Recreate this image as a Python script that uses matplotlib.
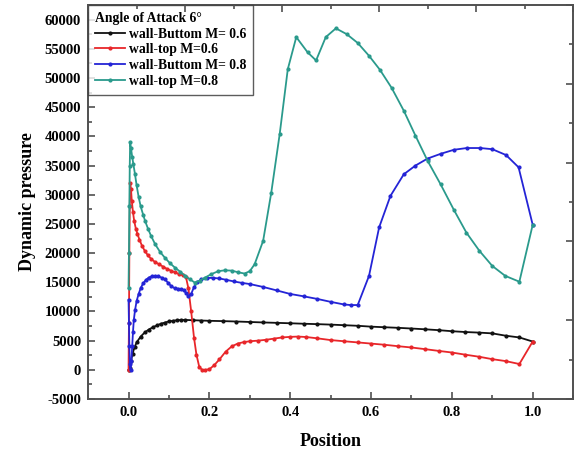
import matplotlib
matplotlib.use("Agg")
import matplotlib.pyplot as plt
from matplotlib.ticker import MultipleLocator, NullFormatter

plt.rcParams["font.family"] = ["Liberation Serif", "DejaVu Serif"]
plt.rcParams["font.weight"] = "bold"
plt.rcParams["axes.unicode_minus"] = False

# wall-Buttom, M = 0.6
x_bot06 = [0.000, 0.003, 0.006, 0.010, 0.015, 0.020, 0.030, 0.040, 0.050, 0.060,
           0.070, 0.080, 0.090, 0.100, 0.110, 0.120, 0.130, 0.140, 0.160, 0.180,
           0.200, 0.233, 0.267, 0.300, 0.333, 0.367, 0.400, 0.433, 0.467, 0.500,
           0.533, 0.567, 0.600, 0.633, 0.667, 0.700, 0.733, 0.767, 0.800, 0.833,
           0.867, 0.900, 0.933, 0.967, 1.000]
y_bot06 = [0, 400, 1500, 2800, 3900, 4700, 5700, 6400, 6900, 7300,
           7600, 7900, 8100, 8300, 8400, 8500, 8550, 8550, 8500, 8450,
           8400, 8350, 8280, 8200, 8120, 8050, 7980, 7900, 7830, 7750,
           7650, 7550, 7400, 7300, 7200, 7080, 6950, 6800, 6620, 6480,
           6380, 6250, 5850, 5550, 4850]

# wall-top, M = 0.6
x_top06 = [0.000, 0.001, 0.002, 0.003, 0.004, 0.006, 0.008, 0.011, 0.014, 0.018,
           0.022, 0.027, 0.033, 0.040, 0.048, 0.056, 0.065, 0.075, 0.085, 0.095,
           0.105, 0.115, 0.125, 0.135, 0.142, 0.148, 0.155, 0.162, 0.168, 0.175,
           0.182, 0.190, 0.200, 0.212, 0.225, 0.240, 0.255, 0.270, 0.285, 0.300,
           0.320, 0.340, 0.360, 0.380, 0.400, 0.420, 0.440, 0.467, 0.500, 0.533,
           0.567, 0.600, 0.633, 0.667, 0.700, 0.733, 0.767, 0.800, 0.833, 0.867,
           0.900, 0.933, 0.967, 1.000]
y_top06 = [0, 8000, 20000, 28000, 32000, 31000, 29000, 27000, 25500, 24200,
           23300, 22300, 21300, 20400, 19600, 19000, 18500, 18100, 17700, 17300,
           17000, 16700, 16400, 16200, 15900, 14000, 10000, 5500, 2600, 500,
           0, 0, 100, 800, 1800, 3100, 4000, 4500, 4750, 4900,
           5000, 5150, 5350, 5550, 5650, 5700, 5620, 5400, 5100, 4900,
           4700, 4500, 4300, 4050, 3830, 3550, 3250, 2970, 2600, 2250,
           1830, 1500, 1000, 4850]

# wall-Buttom, M = 0.8
x_bot08 = [0.000, 0.001, 0.002, 0.003, 0.005, 0.007, 0.009, 0.011, 0.013, 0.016,
           0.020, 0.025, 0.030, 0.036, 0.043, 0.050, 0.058, 0.066, 0.074, 0.082,
           0.090, 0.098, 0.106, 0.114, 0.122, 0.130, 0.136, 0.142, 0.148, 0.155,
           0.162, 0.170, 0.180, 0.195, 0.210, 0.225, 0.240, 0.260, 0.280, 0.300,
           0.333, 0.367, 0.400, 0.433, 0.467, 0.500, 0.533, 0.550, 0.567, 0.595,
           0.620, 0.648, 0.681, 0.710, 0.740, 0.772, 0.805, 0.837, 0.870, 0.900,
           0.934, 0.965, 1.000]
y_bot08 = [12000, 8000, 4000, 1000, 0, 1500, 4000, 6500, 8500, 10200,
           11800, 13000, 14000, 14800, 15400, 15800, 16050, 16100, 16000, 15800,
           15500, 14900, 14300, 14000, 13900, 13800, 13700, 13200, 12600, 13000,
           14200, 15000, 15500, 15750, 15750, 15650, 15450, 15150, 14900, 14700,
           14200, 13600, 13000, 12600, 12150, 11650, 11200, 11100, 11100, 16100,
           24400, 29800, 33500, 35000, 36200, 37000, 37700, 38000, 38000, 37800,
           36800, 34700, 24850]

# wall-top, M = 0.8
x_top08 = [0.000, 0.001, 0.002, 0.003, 0.004, 0.006, 0.009, 0.012, 0.016, 0.020,
           0.025, 0.030, 0.036, 0.041, 0.048, 0.056, 0.066, 0.078, 0.090, 0.102,
           0.115, 0.128, 0.140, 0.152, 0.164, 0.176, 0.189, 0.205, 0.222, 0.238,
           0.255, 0.272, 0.287, 0.300, 0.312, 0.333, 0.353, 0.374, 0.394, 0.415,
           0.443, 0.464, 0.488, 0.513, 0.540, 0.567, 0.595, 0.622, 0.651, 0.681,
           0.710, 0.740, 0.772, 0.805, 0.836, 0.868, 0.900, 0.932, 0.967, 1.000]
y_top08 = [14000, 20000, 28000, 35000, 39000, 38000, 36500, 35200, 33500, 31600,
           29600, 28000, 26600, 25500, 24200, 22900, 21500, 20200, 19200, 18300,
           17500, 16800, 16100, 15500, 14950, 15300, 15800, 16400, 16900, 17050,
           17000, 16700, 16500, 16900, 18100, 22100, 30300, 40400, 51500, 57000,
           54400, 53000, 57000, 58500, 57500, 56000, 53800, 51400, 48300, 44400,
           40100, 35800, 31800, 27400, 23500, 20400, 17800, 16100, 15100, 24850]

series = [
    (x_bot06, y_bot06, "#111111", "wall-Buttom M= 0.6"),
    (x_top06, y_top06, "#e8262a", "wall-top M=0.6"),
    (x_bot08, y_bot08, "#2424d6", "wall-Buttom M= 0.8"),
    (x_top08, y_top08, "#2a9a8c", "wall-top M=0.8"),
]

fig = plt.figure(figsize=(5.76, 4.55), dpi=100)
ax = fig.add_axes([0.153, 0.123, 0.842, 0.866])

for xs, ys, c, lab in series:
    ax.plot(xs, ys, color=c, lw=1.3, marker="o", ms=2.0, mec=c, mfc=c, label=lab)

ax.set_xlim(-0.1, 1.1)
ax.set_ylim(-5000, 62500)
ax.xaxis.set_major_locator(MultipleLocator(0.2))
ax.xaxis.set_minor_locator(MultipleLocator(0.1))
ax.yaxis.set_major_locator(MultipleLocator(5000))
ax.yaxis.set_minor_locator(MultipleLocator(2500))
ax.set_xticks([0.0, 0.2, 0.4, 0.6, 0.8, 1.0])
ax.set_xticklabels(["0.0", "0.2", "0.4", "0.6", "0.8", "1.0"])

frame_col = "#505050"
for s in ax.spines.values():
    s.set_color(frame_col)
    s.set_linewidth(1.4)
ax.tick_params(which="both", direction="in", color=frame_col, labelsize=10.5,
               width=1.2, pad=5)
ax.tick_params(which="major", length=5)
ax.tick_params(which="minor", length=3)

# opposite axes carry their own 0..1 scale, unlabeled
ax_top = ax.twiny()
ax_right = ax.twinx()
ax_top.set_xlim(0, 1)
ax_right.set_ylim(0, 1)
for sec, axis in ((ax_top, ax_top.xaxis), (ax_right, ax_right.yaxis)):
    axis.set_major_locator(MultipleLocator(0.2))
    axis.set_minor_locator(MultipleLocator(0.1))
    axis.set_major_formatter(NullFormatter())
    sec.tick_params(which="both", direction="in", color=frame_col, width=1.2)
    sec.tick_params(which="major", length=5)
    sec.tick_params(which="minor", length=3)
    for s in sec.spines.values():
        s.set_visible(False)
ax_top.tick_params(axis="x", which="both", top=True, bottom=False, labeltop=False)
ax_right.tick_params(axis="y", which="both", right=True, left=False, labelright=False)

ax.set_xlabel("Position", fontsize=13, fontweight="bold", labelpad=10)
ax.set_ylabel("Dynamic pressure", fontsize=13, fontweight="bold", labelpad=6)

leg = ax.legend(loc="upper left", title="Angle of Attack 6°", fontsize=9.8,
                title_fontproperties={"weight": "bold", "size": 9.8},
                fancybox=False, edgecolor="#333333", borderaxespad=0,
                handlelength=2.2, handletextpad=0.3, labelspacing=0.2,
                borderpad=0.5, alignment="left", numpoints=1)
leg.get_frame().set_linewidth(1.0)
for t in leg.get_texts():
    t.set_fontweight("bold")

fig.savefig("out.png", dpi=100)
